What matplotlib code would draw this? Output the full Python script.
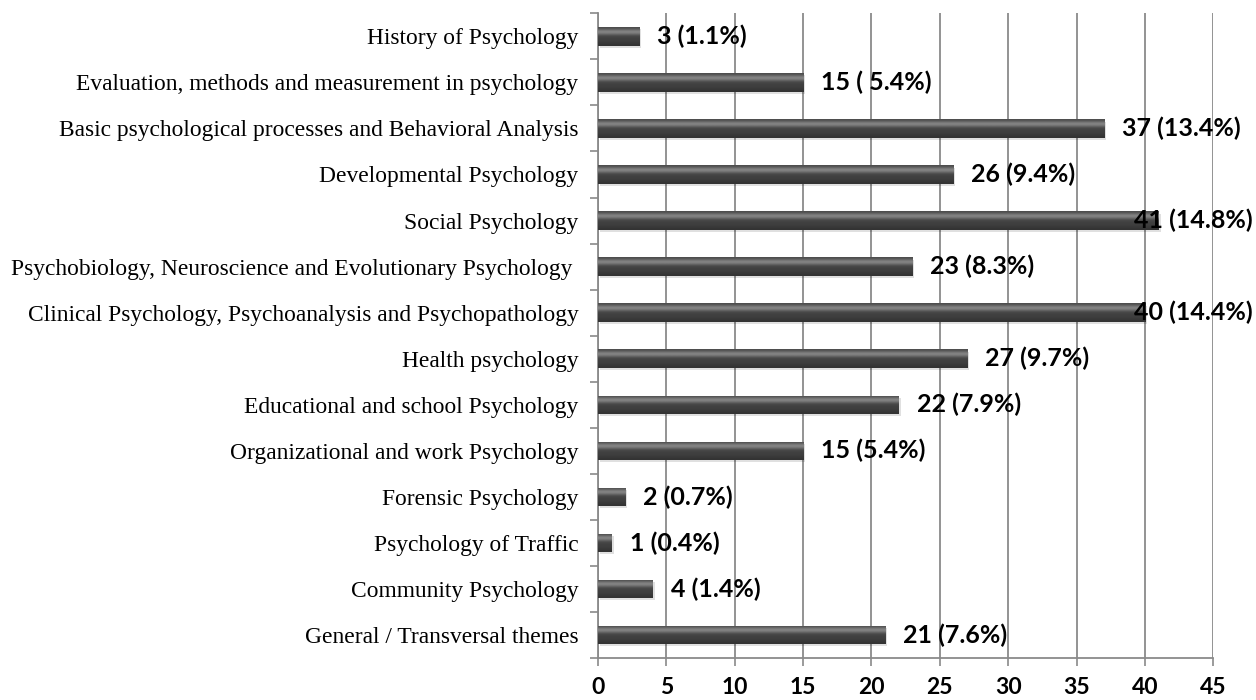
import numpy as np
import matplotlib.pyplot as plt
import matplotlib.transforms as mtransforms

# data (top to bottom as in the chart)
categories = [
    "History of Psychology",
    "Evaluation, methods and measurement in psychology",
    "Basic psychological processes and Behavioral Analysis",
    "Developmental Psychology",
    "Social Psychology",
    "Psychobiology, Neuroscience and Evolutionary Psychology ",
    "Clinical Psychology, Psychoanalysis and Psychopathology",
    "Health psychology",
    "Educational and school Psychology",
    "Organizational and work Psychology",
    "Forensic Psychology",
    "Psychology of Traffic",
    "Community Psychology",
    "General / Transversal themes",
]
counts = [3, 15, 37, 26, 41, 23, 40, 27, 22, 15, 2, 1, 4, 21]
bar_labels = ["3 (1.1%)", "15 ( 5.4%)", "37 (13.4%)", "26 (9.4%)", "41 (14.8%)",
              "23 (8.3%)", "40 (14.4%)", "27 (9.7%)", "22 (7.9%)", "15 (5.4%)",
              "2 (0.7%)", "1 (0.4%)", "4 (1.4%)", "21 (7.6%)"]
x_ticks = [0, 5, 10, 15, 20, 25, 30, 35, 40, 45]

GRID = "#8a8a8a"

fig = plt.figure(figsize=(12.56, 7.0), dpi=100)
ax = fig.add_axes([0.476, 0.06, 0.49, 0.921])

y = np.arange(len(categories))
bars = ax.barh(y, counts, height=0.4, color="#444444", zorder=3)

# gradient look on each bar
grad = np.array([0.30, 0.42, 0.55, 0.45, 0.30, 0.26, 0.25, 0.24, 0.22, 0.20]).reshape(-1, 1)
for b in bars:
    x0, y0, w, h = b.get_x(), b.get_y(), b.get_width(), b.get_height()
    im = ax.imshow(grad, cmap="gray", vmin=0, vmax=1, aspect="auto",
                   extent=(x0, x0 + w, y0 + h, y0), zorder=4, interpolation="bicubic")
    im.set_clip_path(b)
    # soft shadow under the bar
    ax.barh(y0 + h / 2 + 0.05, w, height=h, left=x0 + 0.15, color="#000000",
            alpha=0.12, zorder=2)

trans = mtransforms.blended_transform_factory(fig.transFigure, ax.transData)
for yi, v, lab in zip(y, counts, bar_labels):
    if v >= 40:
        ax.text(0.997, yi, lab, transform=trans, ha="right", va="center",
                fontsize=18, fontweight="bold", family="Lato", zorder=6)
    else:
        ax.annotate(lab, (v, yi), xytext=(13, 0), textcoords="offset points",
                    ha="left", va="center", fontsize=18, fontweight="bold",
                    family="Lato", zorder=6)

ax.set_xlim(0, 45)
ax.set_ylim(len(categories) - 0.5, -0.5)
ax.set_xticks(x_ticks)
ax.set_xticklabels([str(t) for t in x_ticks], fontsize=16.5, fontweight="bold", family="Lato")
ax.set_yticks(y)
ax.set_yticklabels(categories, fontsize=16.9, family="Liberation Serif")
ax.tick_params(axis="y", length=0, pad=14)
ax.set_yticks(np.arange(len(categories) + 1) - 0.5, minor=True)
ax.tick_params(axis="y", which="minor", length=6, color=GRID, width=1.2)
ax.tick_params(axis="x", length=6, color=GRID, width=1.2, pad=8)

ax.xaxis.grid(True, color=GRID, linewidth=1.3, zorder=0)
ax.set_axisbelow(True)
for s in ["top", "right"]:
    ax.spines[s].set_visible(False)
for s in ["left", "bottom"]:
    ax.spines[s].set_color(GRID)
    ax.spines[s].set_linewidth(1.3)

fig.savefig("out.png", dpi=100)
